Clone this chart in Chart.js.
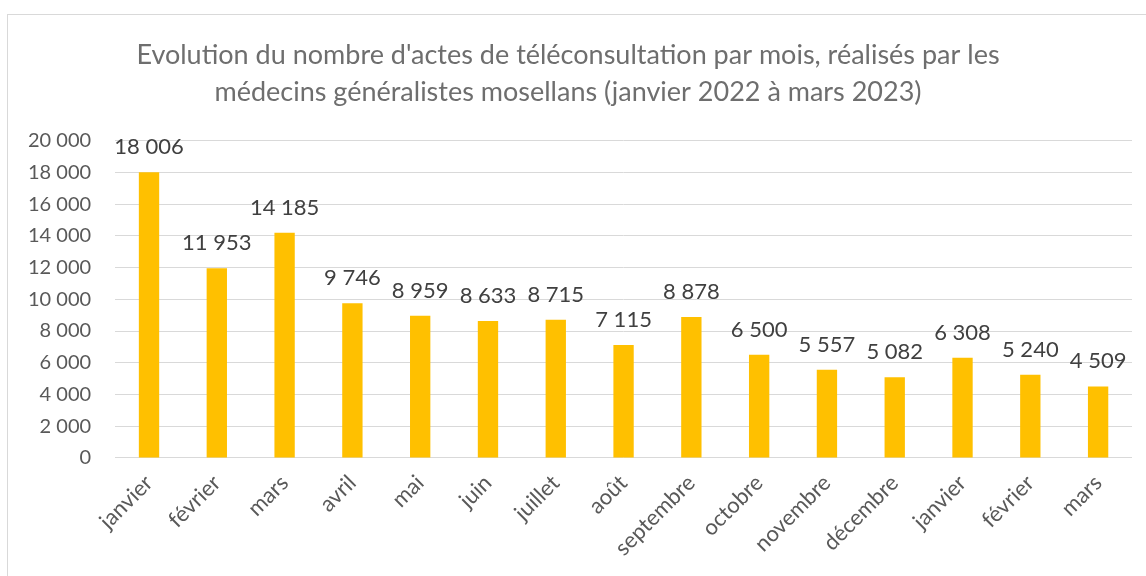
<!DOCTYPE html>
<html>
<head>
<meta charset="utf-8">
<script src="https://cdn.jsdelivr.net/npm/chart.js@4.4.0/dist/chart.umd.min.js"></script>
<style>
  body { margin: 0; background: #fff; overflow: hidden; }
  #frame { position: absolute; left: 7px; top: 14px; width: 1200px; height: 600px; border: 1px solid #d9d9d9; }
  #wrap { position: absolute; left: 0; top: 0; width: 1146px; height: 576px; }
</style>
</head>
<body>
<div id="frame"></div>
<div id="wrap"><canvas id="myChart" width="1146" height="576"></canvas></div>
<script>
// data
const months = ['janvier','février','mars','avril','mai','juin','juillet','août','septembre','octobre','novembre','décembre','janvier','février','mars'];
const actes = [18006, 11953, 14185, 9746, 8959, 8633, 8715, 7115, 8878, 6500, 5557, 5082, 6308, 5240, 4509];
const titleLines = ["Evolution du nombre d'actes de téléconsultation par mois, réalisés par les",
                    "médecins généralistes mosellans (janvier 2022 à mars 2023)"];

// "18 006" style numbers
function fmt(v) {
  return String(v).replace(/\B(?=(\d{3})+(?!\d))/g, ' ');
}

// draws the value above each bar
const valueLabels = {
  id: 'valueLabels',
  afterDatasetsDraw(chart) {
    const ctx = chart.ctx;
    ctx.save();
    ctx.font = '22px Lato';
    ctx.fillStyle = '#404040';
    ctx.textAlign = 'center';
    ctx.textBaseline = 'middle';
    chart.getDatasetMeta(0).data.forEach((bar, i) => {
      ctx.fillText(fmt(actes[i]), bar.x, bar.y - 25);
    });
    ctx.restore();
  }
};

const data = {
  labels: months,
  datasets: [{
    data: actes,
    backgroundColor: '#FFC000',
    barPercentage: 0.3,
    categoryPercentage: 1
  }]
};

const config = {
  type: 'bar',
  data: data,
  options: {
    responsive: false,
    animation: false,
    layout: { padding: { left: 4, right: 14, top: 0, bottom: 11 } },
    plugins: {
      legend: { display: false },
      tooltip: { enabled: false },
      title: {
        display: true,
        text: titleLines,
        color: '#6e6e6e',
        font: { family: 'Lato', size: 27, weight: 'normal', lineHeight: 1.4 },
        padding: { top: 36, bottom: 29 }
      }
    },
    scales: {
      x: {
        grid: { display: false },
        border: { display: false },
        ticks: {
          color: '#595959',
          font: { family: 'Lato', size: 22 },
          minRotation: 45,
          maxRotation: 45,
          padding: 4
        }
      },
      y: {
        min: 0,
        max: 20000,
        grid: { color: '#d9d9d9', lineWidth: 1, drawTicks: false },
        border: { display: false },
        ticks: {
          stepSize: 2000,
          color: '#595959',
          font: { family: 'Lato', size: 20 },
          padding: 24,
          callback: function(v) { return fmt(v); }
        }
      }
    }
  },
  plugins: [valueLabels]
};

const myChart = new Chart(document.getElementById('myChart'), config);
</script>
</body>
</html>
